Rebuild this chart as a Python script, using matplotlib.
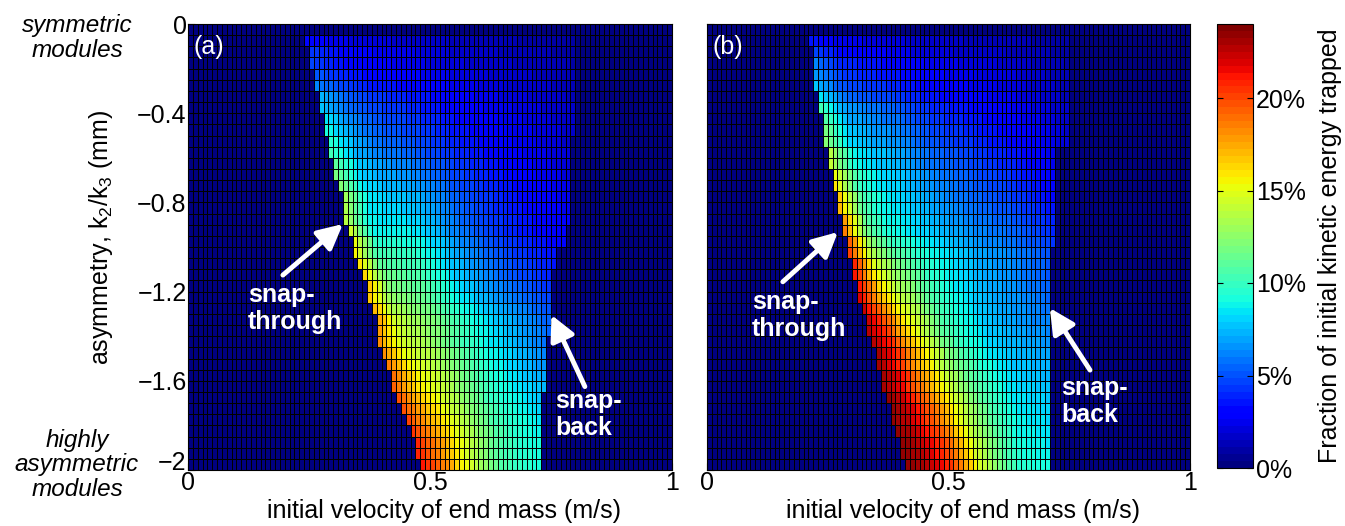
import numpy as np
import matplotlib.pyplot as plt

plt.rcParams['font.family'] = ['Liberation Sans', 'DejaVu Sans']
plt.rcParams['mathtext.fontset'] = 'custom'
plt.rcParams['mathtext.rm'] = 'Liberation Sans'
plt.rcParams['mathtext.it'] = 'Liberation Sans:italic'

# grid: 100 velocity columns (0..1), 40 asymmetry rows (0..-2), top row first
velocity_edges = np.linspace(0, 1, 101)
asym_edges = np.linspace(0, -2, 41)

# ---- panel (a) ----
# first trapping column (snap-through) and end column (snap-back), per row
left_a = [24, 24, 25, 25, 26, 26, 27, 27, 28, 28,
          29, 29, 30, 30, 31, 32, 32, 32, 33, 34,
          34, 35, 36, 37, 37, 38, 39, 39, 39, 40,
          41, 42, 42, 43, 44, 45, 46, 47, 47, 48]
right_a = [80, 80, 80, 80, 80, 80, 80, 80, 80, 80,
           79, 79, 79, 79, 79, 79, 79, 79, 78, 78,
           76, 76, 75, 75, 75, 75, 75, 75, 74, 74,
           74, 74, 74, 73, 73, 73, 73, 73, 73, 73]
# trapped energy (%) at the snap-through edge and at the snap-back edge
peak_a = [0, 3.2, 4.4, 4.6, 5.2, 6.2, 7.2, 7.8, 8.4, 9.1,
          9.6, 10.2, 11.1, 11.7, 12.3, 12.9, 13.2, 13.8, 14.4, 15.0,
          15.6, 16.0, 16.3, 16.6, 16.8, 17.2, 17.5, 17.7, 18.0, 18.3,
          18.6, 19.0, 19.2, 19.5, 19.8, 20.1, 20.4, 20.7, 20.9, 21.1]
edge_a = [0, 0.9, 1.0, 1.1, 1.2, 1.3, 1.4, 1.5, 1.6, 1.7,
          1.8, 1.9, 2.0, 2.1, 2.3, 2.4, 2.5, 2.7, 2.8, 3.0,
          3.5, 3.7, 3.9, 4.2, 4.6, 5.0, 5.4, 5.6, 5.8, 6.2,
          6.5, 6.9, 7.3, 7.8, 8.2, 8.5, 8.8, 9.0, 9.1, 9.2]

# ---- panel (b) ----
left_b = [21, 21, 22, 22, 22, 22, 23, 23, 24, 24,
          24, 25, 25, 26, 26, 27, 27, 28, 28, 29,
          29, 30, 30, 31, 31, 32, 33, 33, 34, 35,
          35, 36, 36, 37, 38, 38, 39, 40, 40, 41]
right_b = [75, 75, 75, 75, 75, 75, 75, 75, 75, 75,
           75, 72, 72, 72, 72, 72, 72, 72, 72, 72,
           71, 71, 71, 71, 71, 71, 71, 71, 71, 71,
           71, 71, 71, 71, 71, 71, 71, 71, 71, 71]
peak_b = [0, 3.6, 4.6, 6.0, 6.6, 7.5, 8.4, 10.2, 10.8, 11.7,
          12.3, 13.5, 14.1, 15.3, 15.9, 16.5, 17.1, 17.7, 18.6, 19.2,
          20.1, 20.7, 21.3, 21.3, 22.0, 22.2, 22.4, 22.8, 22.8, 22.9,
          23.0, 23.2, 23.2, 23.3, 23.4, 23.4, 23.5, 23.5, 23.5, 23.5]
edge_b = [0, 0.9, 1.0, 1.1, 1.2, 1.3, 1.4, 1.5, 1.6, 1.8,
          1.9, 2.4, 2.6, 2.8, 3.0, 3.2, 3.5, 3.8, 4.1, 4.4,
          5.0, 5.1, 5.2, 5.4, 5.6, 5.8, 6.0, 6.3, 6.6, 6.9,
          7.2, 7.4, 7.6, 7.8, 8.0, 8.2, 8.4, 8.6, 8.8, 9.0]

# decay across each row, read at a few rows (fraction of peak-edge excess)
frac_pos = [0, 0.1, 0.2, 0.3, 0.4, 0.5, 0.65, 0.8, 1.0]
shape_rows = [1, 10, 18, 28, 39]
shape_a = [[1, 0.68, 0.50, 0.44, 0.36, 0.28, 0.18, 0.09, 0],
           [1, 0.68, 0.50, 0.44, 0.36, 0.28, 0.18, 0.09, 0],
           [1, 0.53, 0.52, 0.50, 0.40, 0.28, 0.16, 0.07, 0],
           [1, 0.77, 0.66, 0.58, 0.49, 0.38, 0.24, 0.14, 0],
           [1, 0.88, 0.76, 0.60, 0.45, 0.32, 0.15, 0.06, 0]]
shape_b = [[1, 0.60, 0.50, 0.44, 0.33, 0.27, 0.19, 0.12, 0],
           [1, 0.60, 0.50, 0.44, 0.33, 0.27, 0.19, 0.12, 0],
           [1, 0.52, 0.36, 0.31, 0.26, 0.21, 0.14, 0.10, 0],
           [1, 0.88, 0.65, 0.49, 0.31, 0.21, 0.10, 0.04, 0],
           [1, 0.97, 0.91, 0.80, 0.62, 0.41, 0.20, 0.04, 0]]


def build_grid(left, right, peak, edge, shapes):
    shapes = np.array(shapes)
    z = np.zeros((40, 100))
    for r in range(40):
        if peak[r] <= 0:
            continue
        prof = [np.interp(r, shape_rows, shapes[:, k]) for k in range(len(frac_pos))]
        cols = np.arange(left[r], right[r])
        s = (cols - left[r]) / max(right[r] - 1 - left[r], 1)
        z[r, cols] = edge[r] + (peak[r] - edge[r]) * np.interp(s, frac_pos, prof)
    return z


grid_a = build_grid(left_a, right_a, peak_a, edge_a, shape_a)
grid_b = build_grid(left_b, right_b, peak_b, edge_b, shape_b)

cmap = plt.get_cmap('jet', 64)

fig = plt.figure(figsize=(13.45, 5.26), dpi=100)
ax_a = fig.add_axes([188 / 1345, 56 / 526, 484 / 1345, 446 / 526])
ax_b = fig.add_axes([707 / 1345, 56 / 526, 483 / 1345, 446 / 526])
cax = fig.add_axes([1217 / 1345, 58 / 526, 36 / 1345, 444 / 526])

fs = 18
for ax, grid, tag in [(ax_a, grid_a, '(a)'), (ax_b, grid_b, '(b)')]:
    mesh = ax.pcolormesh(velocity_edges, asym_edges, grid, cmap=cmap,
                         vmin=0, vmax=24, edgecolors='k', linewidth=0.6)
    ax.set_xlim(0, 1)
    ax.set_ylim(-2, 0)
    ax.set_xticks([0, 0.5, 1])
    ax.set_xticklabels(['0', '0.5', '1'], fontsize=fs)
    ax.set_yticks([0, -0.4, -0.8, -1.2, -1.6, -2])
    ax.tick_params(direction='in', length=5, pad=1)
    ax.set_xlabel('initial velocity of end mass (m/s)', fontsize=fs)
    ax.xaxis.set_label_coords(0.529, -0.065)
    ax.text(0.012, 0.975, tag, transform=ax.transAxes, color='white',
            fontsize=fs, ha='left', va='top')

ax_a.set_yticklabels(['0', '\u22120.4', '\u22120.8', '\u22121.2', '\u22121.6', '\u22122'],
                     fontsize=fs)
ax_a.get_yticklabels()[-1].set_va('baseline')
ax_b.set_yticklabels([])
ax_a.set_ylabel('asymmetry, k$_2$/k$_3$ (mm)', fontsize=fs)
ax_a.yaxis.set_label_coords(-0.15, 0.522)

cb = fig.colorbar(mesh, cax=cax, ticks=[0, 5, 10, 15, 20])
cb.set_ticklabels(['0%', '5%', '10%', '15%', '20%'])
cax.tick_params(direction='in', left=True, right=True, length=4, labelsize=fs, pad=2)
cb.outline.set_linewidth(0.8)
cb.set_label('Fraction of initial kinetic energy trapped', fontsize=fs, labelpad=9)

# annotations
arrow = dict(arrowstyle='-|>,head_length=0.75,head_width=0.38', color='white',
             lw=3.5, shrinkA=0, shrinkB=0, mutation_scale=20)
txt = dict(color='white', fontsize=18, fontweight='bold', ha='left', va='center',
           linespacing=1.15)

ax_a.annotate('', xy=(0.320, -0.897), xytext=(0.196, -1.126), arrowprops=arrow)
ax_a.text(0.124, -1.274, 'snap-\nthrough', **txt)
ax_a.annotate('', xy=(0.751, -1.305), xytext=(0.820, -1.626), arrowprops=arrow)
ax_a.text(0.758, -1.753, 'snap-\nback', **txt)

ax_b.annotate('', xy=(0.271, -0.933), xytext=(0.157, -1.156), arrowprops=arrow)
ax_b.text(0.093, -1.309, 'snap-\nthrough', **txt)
ax_b.annotate('', xy=(0.710, -1.274), xytext=(0.793, -1.552), arrowprops=arrow)
ax_b.text(0.734, -1.694, 'snap-\nback', **txt)

fig.text(77 / 1345, 1 - 38 / 526, 'symmetric\nmodules', style='italic', fontsize=17.5,
         ha='center', va='center', linespacing=1.1)
fig.text(77 / 1345, 1 - 465 / 526, 'highly\nasymmetric\nmodules', style='italic',
         fontsize=17.5, ha='center', va='center', linespacing=1.1)

fig.savefig('out.png', dpi=100)
